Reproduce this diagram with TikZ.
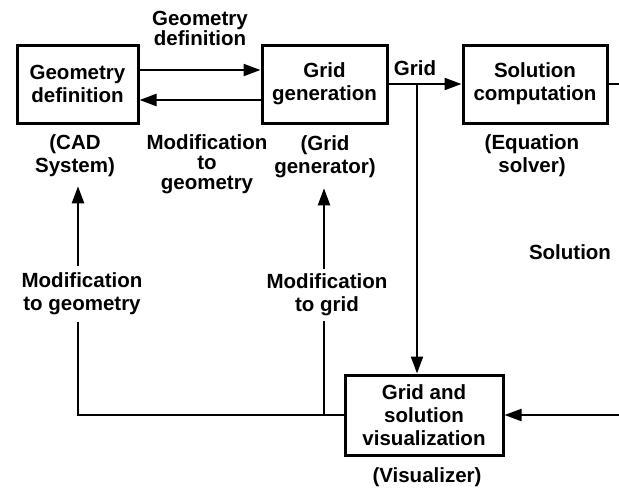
\documentclass[tikz,border=0pt]{standalone}
\usepackage{fontspec}
\setmainfont{Liberation Sans}
\usetikzlibrary{arrows.meta}

\begin{document}
\begin{tikzpicture}[x=1pt, y=-1pt,
    font=\fontsize{20.5}{23}\selectfont\bfseries,
    box/.style={draw, line width=3pt, align=center, inner sep=0pt, minimum height=78pt},
    lbl/.style={align=center, inner sep=0pt},
    tight/.style={lbl, font=\fontsize{20.5}{20}\selectfont\bfseries},
    link/.style={line width=2.2pt},
    flow/.style={link, -{Triangle[length=17pt, width=12pt]}}]
  \useasboundingbox (0,0) rectangle (619,490);

  % boxes
  \node[box, minimum width=121pt] (geo) at (77.5,84) {Geometry\\definition};
  \node[box, minimum width=125pt] (grid) at (324.5,84) {Grid\\generation};
  \node[box, minimum width=144pt] (sol) at (535,84) {Solution\\computation};
  \node[box, minimum width=158pt, minimum height=80pt] (vis) at (424,415) {Grid and\\solution\\visualization};

  % tools below the boxes
  \node[lbl] (cad) at (75,156) {(CAD\\System)};
  \node[lbl] (gridgen) at (325,157) {(Grid\\generator)};
  \node[lbl] (solver) at (532,156) {(Equation\\solver)};
  \node[lbl] (visr) at (427,477) {(Visualizer)};

  % labels on the links
  \node[tight] (geodef) at (200,28) {Geometry\\definition};
  \node[tight] (modtop) at (207,164) {Modification\\to\\geometry};
  \node[lbl] (gridlbl) at (415,68) {Grid};
  \node[lbl] (sollbl) at (570,252) {Solution};
  \node[lbl, inner ysep=7pt] (modgeo) at (82,294) {Modification\\to geometry};
  \node[lbl, inner ysep=5pt] (modgrid) at (327,295) {Modification\\to grid};

  \coordinate (branch) at (417,84);
  \coordinate (solout) at (625,84);
  \coordinate (solin) at (625,415);
  \coordinate (lcorner) at (78,415);
  \coordinate (mcorner) at (324,415);

  % links
  \draw[flow] ([yshift=14pt]geo.east) -- ([yshift=14pt]grid.west);
  \draw[flow] ([yshift=-16pt]grid.west) -- ([yshift=-16pt]geo.east);
  \draw[flow] (grid.east) -- (sol.west);
  \draw[flow] (branch) -- (branch |- vis.north);
  \draw[link] (sol.east) -- (solout);
  \draw[flow] (solin) -- (vis.east);
  \draw[link] (vis.west) -- (lcorner) -- (lcorner |- modgeo.south);
  \draw[flow] (lcorner |- modgeo.north) -- ([yshift=-9pt]lcorner |- cad.south);
  \draw[link] (mcorner) -- (mcorner |- modgrid.south);
  \draw[flow] (mcorner |- modgrid.north) -- ([yshift=-10pt]mcorner |- gridgen.south);
\end{tikzpicture}
\end{document}
